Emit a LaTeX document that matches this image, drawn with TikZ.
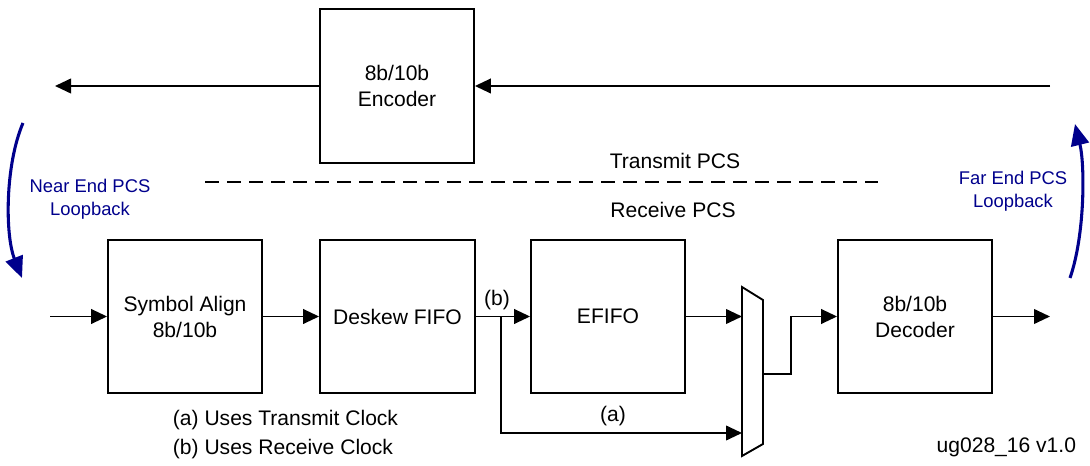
\documentclass[tikz,border=0pt]{standalone}
\usepackage{fontspec}
\setmainfont{Liberation Sans}
\usetikzlibrary{arrows.meta}
\definecolor{loopblue}{RGB}{0,0,140}
\begin{document}
\begin{tikzpicture}[x=0.75pt,y=-0.75pt,
  line width=1.4pt,
  blk/.style={draw,inner sep=0pt,minimum width=115.5pt,minimum height=114.75pt,
    align=center,font=\fontsize{15.8}{19.5}\selectfont},
  lbl/.style={inner sep=0pt,font=\fontsize{15.8}{18}\selectfont},
  looplbl/.style={inner sep=0pt,align=center,text=loopblue,font=\fontsize{13.8}{17}\selectfont},
  arr/.style={-{Triangle[length=12pt,width=11pt]}},
  looparr/.style={draw=loopblue,line width=2.3pt,-{Triangle[length=16pt,width=13.5pt]}}]
\useasboundingbox (0,0) rectangle (1090,466);

% transmit path
\node[blk,minimum height=115.5pt] (enc) at (397,86) {8b/10b\\Encoder};
\coordinate (txin) at (1050,86);
\coordinate (txout) at (55,86);
\draw[arr] (txin) -- (enc.east);
\draw[arr] (enc.west) -- (txout);

% PCS separator
\coordinate (dashL) at (205,182);
\coordinate (dashR) at (878,182);
\draw[dash pattern=on 10.5pt off 6pt] (dashL) -- (dashR);
\node[lbl] (txpcs) at (675,161) {Transmit PCS};
\node[lbl] (rxpcs) at (673,210) {Receive PCS};

% receive path
\node[blk] (sym) at (185,316.5) {Symbol Align\\8b/10b};
\node[blk,minimum width=116.25pt] (desk) at (397.5,316.5) {Deskew FIFO};
\node[blk] (efifo) at (608,316.5) {EFIFO};
\node[blk] (dec) at (915,316.5) {8b/10b\\Decoder};

\coordinate (rxin) at (50,316.5);
\coordinate (rxout) at (1050,316.5);
\coordinate (junc) at (501,316.5);
\coordinate (muxin1) at (742,316.5);
\coordinate (muxin2) at (742,433);
\coordinate (muxout) at (763,374);
\coordinate (jog) at (791,316.5);

% multiplexer
\draw (742,287) -- (763,300) -- (763,444) -- (742,456) -- cycle;

\draw[arr] (rxin) -- (sym.west);
\draw[arr] (sym.east) -- (desk.west);
\draw (desk.east) -- (junc);
\draw[arr] (junc) -- (efifo.west);
\draw[arr] (junc) |- (muxin2);
\draw[arr] (efifo.east) -- (muxin1);
\draw[arr] (muxout) -| (jog) -- (dec.west);
\draw[arr] (dec.east) -- (rxout);

\node[lbl] (blab) at (497,300) {(b)};
\node[lbl] (alab) at (613,416) {(a)};

% loopback paths
\coordinate (nearA) at (23,123);
\coordinate (nearB) at (22,278);
\draw[looparr] (nearA) .. controls (5,165) and (5,235) .. (nearB);
\node[looplbl] (nearlbl) at (90,199.5) {Near End PCS\\Loopback};

\coordinate (farA) at (1070,278);
\coordinate (farB) at (1075,124);
\draw[looparr] (farA) .. controls (1085,235) and (1085,165) .. (farB);
\node[looplbl] (farlbl) at (1013,191.5) {Far End PCS\\Loopback};

% notes
\node[lbl,anchor=west] (notea) at (172,420) {(a) Uses Transmit Clock};
\node[lbl,anchor=west] (noteb) at (172,449) {(b) Uses Receive Clock};
\node[lbl,anchor=east] (figid) at (1077,447) {ug028\_16 v1.0};
\end{tikzpicture}
\end{document}
